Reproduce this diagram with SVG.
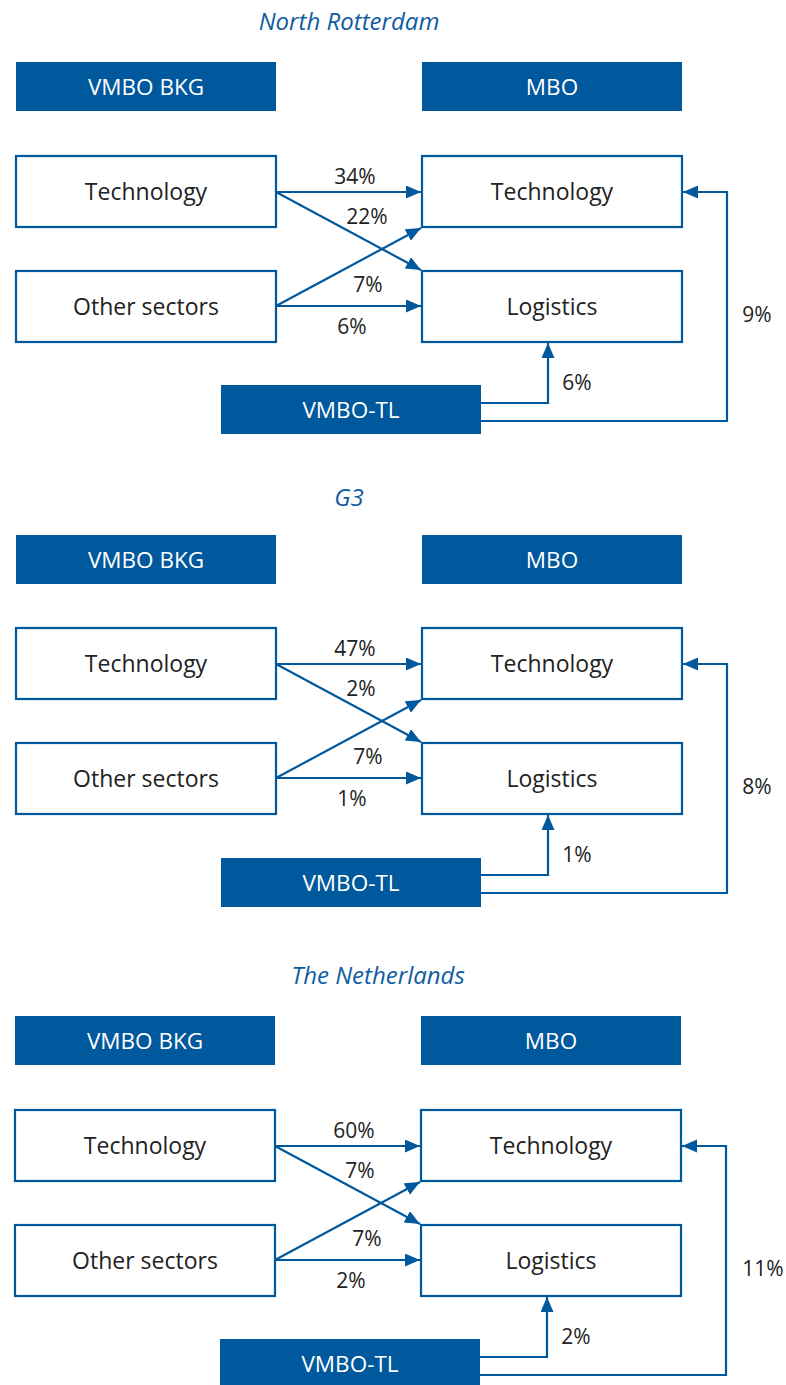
<svg xmlns="http://www.w3.org/2000/svg" width="786" height="1385" viewBox="0 0 786 1385">
<defs>
<style>
.title{font-family:"Open Sans","Noto Sans",sans-serif;font-style:italic;font-size:24px;fill:#0f5ca3;text-anchor:middle}
.hdr{fill:#00589d}
.hdrt{font-family:"Open Sans","Noto Sans",sans-serif;font-size:22.5px;fill:#ffffff;text-anchor:middle}
.box{fill:#ffffff;stroke:#00589d;stroke-width:2.2}
.boxt{font-family:"Open Sans","Noto Sans",sans-serif;font-size:23px;fill:#222222;text-anchor:middle}
.lbl{font-family:"Open Sans","Noto Sans",sans-serif;font-size:21px;fill:#222222;text-anchor:middle}
.con{fill:none;stroke:#00589d;stroke-width:2.2;marker-end:url(#ah)}
</style>
<marker id="ah" markerUnits="userSpaceOnUse" markerWidth="16" markerHeight="14" refX="15" refY="6.5" orient="auto">
<path d="M0,0 L15,6.5 L0,13 z" fill="#00589d"/>
</marker>
</defs>

<!-- Section 1 -->
<g id="section1">
<text class="title" x="349" y="30">North Rotterdam</text>
<g id="s1-vmbo-bkg"><rect class="hdr" x="16" y="62" width="260" height="49"/><text class="hdrt" x="146" y="95">VMBO BKG</text></g>
<g id="s1-mbo"><rect class="hdr" x="422" y="62" width="260" height="49"/><text class="hdrt" x="552" y="95">MBO</text></g>
<g id="s1-left-tech"><rect class="box" x="16" y="156" width="260" height="71"/><text class="boxt" x="146" y="200">Technology</text></g>
<g id="s1-left-other"><rect class="box" x="16" y="271" width="260" height="71"/><text class="boxt" x="146" y="315">Other sectors</text></g>
<g id="s1-right-tech"><rect class="box" x="422" y="156" width="260" height="71"/><text class="boxt" x="552" y="200">Technology</text></g>
<g id="s1-right-log"><rect class="box" x="422" y="271" width="260" height="71"/><text class="boxt" x="552" y="315">Logistics</text></g>
<g id="s1-vmbo-tl"><rect class="hdr" x="221" y="385" width="260" height="49"/><text class="hdrt" x="351" y="418">VMBO-TL</text></g>
<g id="s1-connectors">
<path class="con" d="M276,192 L421,192"/>
<path class="con" d="M276,192 L421,270"/>
<path class="con" d="M276,306 L421,228"/>
<path class="con" d="M276,306 L421,306"/>
<path class="con" d="M481,403 L548,403 L548,343"/>
<path class="con" d="M481,421 L727,421 L727,192 L683,192"/>
<text class="lbl" x="355" y="184">34%</text>
<text class="lbl" x="367" y="224">22%</text>
<text class="lbl" x="368" y="292">7%</text>
<text class="lbl" x="352" y="334">6%</text>
<text class="lbl" x="577" y="390">6%</text>
<text class="lbl" x="757" y="322">9%</text>
</g>
</g>

<!-- Section 2 -->
<g id="section2" transform="translate(0,472)">
<text class="title" x="349" y="34">G3</text>
<g id="s2-vmbo-bkg"><rect class="hdr" x="16" y="63" width="260" height="49"/><text class="hdrt" x="146" y="96">VMBO BKG</text></g>
<g id="s2-mbo"><rect class="hdr" x="422" y="63" width="260" height="49"/><text class="hdrt" x="552" y="96">MBO</text></g>
<g id="s2-left-tech"><rect class="box" x="16" y="156" width="260" height="71"/><text class="boxt" x="146" y="200">Technology</text></g>
<g id="s2-left-other"><rect class="box" x="16" y="271" width="260" height="71"/><text class="boxt" x="146" y="315">Other sectors</text></g>
<g id="s2-right-tech"><rect class="box" x="422" y="156" width="260" height="71"/><text class="boxt" x="552" y="200">Technology</text></g>
<g id="s2-right-log"><rect class="box" x="422" y="271" width="260" height="71"/><text class="boxt" x="552" y="315">Logistics</text></g>
<g id="s2-vmbo-tl"><rect class="hdr" x="221" y="386" width="260" height="49"/><text class="hdrt" x="351" y="419">VMBO-TL</text></g>
<g id="s2-connectors">
<path class="con" d="M276,192 L421,192"/>
<path class="con" d="M276,192 L421,270"/>
<path class="con" d="M276,306 L421,228"/>
<path class="con" d="M276,306 L421,306"/>
<path class="con" d="M481,403 L548,403 L548,343"/>
<path class="con" d="M481,421 L727,421 L727,192 L683,192"/>
<text class="lbl" x="355" y="184">47%</text>
<text class="lbl" x="361" y="224">2%</text>
<text class="lbl" x="368" y="292">7%</text>
<text class="lbl" x="352" y="334">1%</text>
<text class="lbl" x="577" y="390">1%</text>
<text class="lbl" x="757" y="322">8%</text>
</g>
</g>

<!-- Section 3 -->
<g id="section3" transform="translate(-1,954)">
<text class="title" x="379" y="30">The Netherlands</text>
<g id="s3-vmbo-bkg"><rect class="hdr" x="16" y="62" width="260" height="49"/><text class="hdrt" x="146" y="95">VMBO BKG</text></g>
<g id="s3-mbo"><rect class="hdr" x="422" y="62" width="260" height="49"/><text class="hdrt" x="552" y="95">MBO</text></g>
<g id="s3-left-tech"><rect class="box" x="16" y="156" width="260" height="71"/><text class="boxt" x="146" y="200">Technology</text></g>
<g id="s3-left-other"><rect class="box" x="16" y="271" width="260" height="71"/><text class="boxt" x="146" y="315">Other sectors</text></g>
<g id="s3-right-tech"><rect class="box" x="422" y="156" width="260" height="71"/><text class="boxt" x="552" y="200">Technology</text></g>
<g id="s3-right-log"><rect class="box" x="422" y="271" width="260" height="71"/><text class="boxt" x="552" y="315">Logistics</text></g>
<g id="s3-vmbo-tl"><rect class="hdr" x="221" y="385" width="260" height="49"/><text class="hdrt" x="351" y="418">VMBO-TL</text></g>
<g id="s3-connectors">
<path class="con" d="M276,192 L421,192"/>
<path class="con" d="M276,192 L421,270"/>
<path class="con" d="M276,306 L421,228"/>
<path class="con" d="M276,306 L421,306"/>
<path class="con" d="M481,403 L548,403 L548,343"/>
<path class="con" d="M481,421 L727,421 L727,192 L683,192"/>
<text class="lbl" x="355" y="184">60%</text>
<text class="lbl" x="361" y="224">7%</text>
<text class="lbl" x="368" y="292">7%</text>
<text class="lbl" x="352" y="334">2%</text>
<text class="lbl" x="577" y="390">2%</text>
<text class="lbl" x="764" y="322">11%</text>
</g>
</g>
</svg>
